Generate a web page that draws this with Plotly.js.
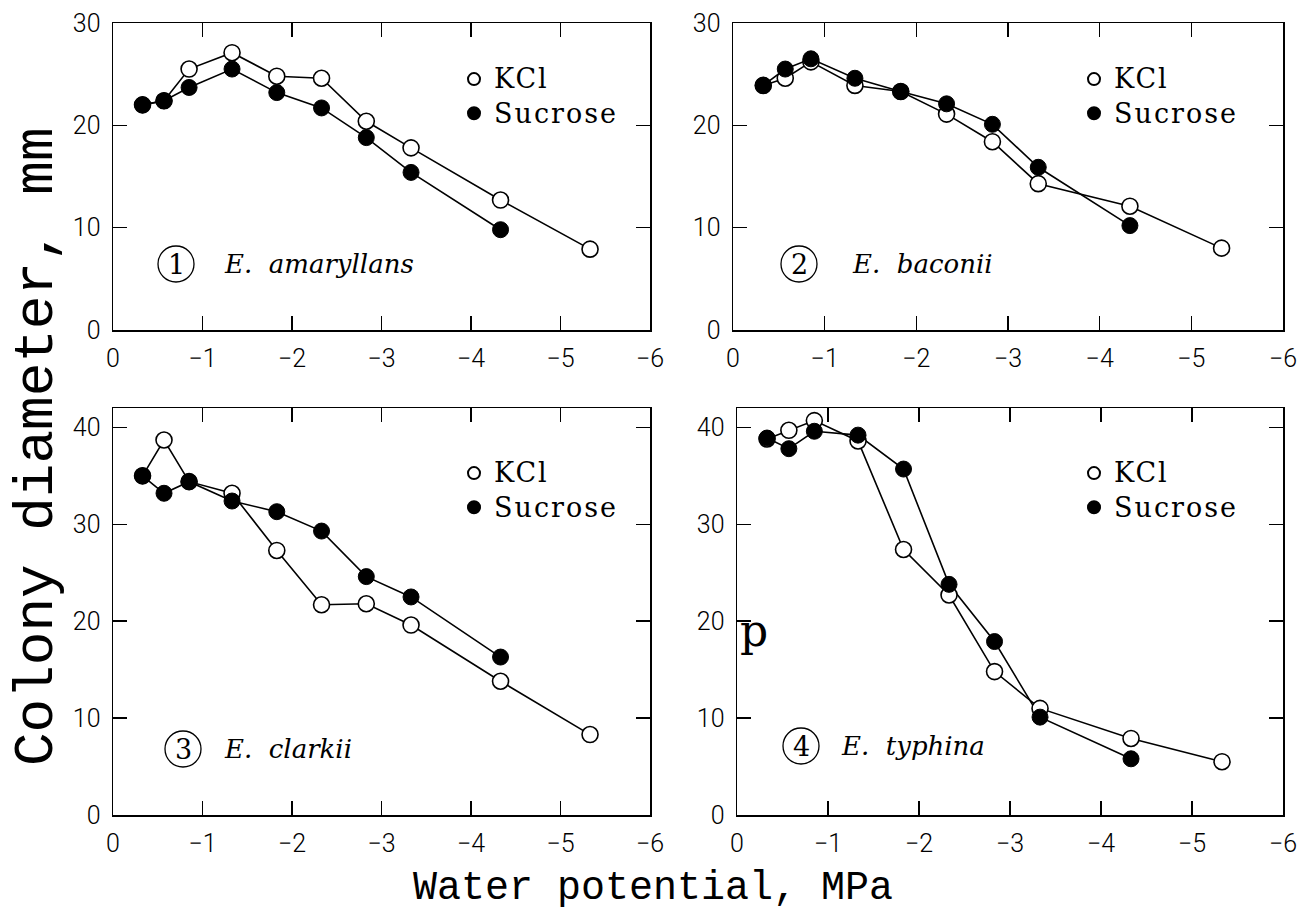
<!DOCTYPE html>
<html>
<head>
<meta charset="utf-8">
<script src="https://cdn.plot.ly/plotly-3.0.1.min.js"></script>
<style>html,body{margin:0;padding:0;background:#fff;}#chart{width:1301px;height:918px;}</style>
</head>
<body>
<div id="chart"></div>
<script>
// ---- data ----
const waterPotential = [-0.33, -0.57, -0.85, -1.33, -1.83, -2.33, -2.83, -3.33, -4.33, -5.33];
const waterPotentialSucrose = [-0.33, -0.57, -0.85, -1.33, -1.83, -2.33, -2.83, -3.33, -4.33];

const amaryllansKCl     = [22.0, 22.4, 25.5, 27.1, 24.8, 24.6, 20.4, 17.8, 12.7, 7.9];
const amaryllansSucrose = [22.0, 22.4, 23.7, 25.5, 23.2, 21.7, 18.8, 15.4, 9.8];

const baconiiKCl        = [23.9, 24.6, 26.2, 23.9, 23.3, 21.1, 18.4, 14.3, 12.1, 8.0];
const baconiiSucrose    = [23.9, 25.5, 26.5, 24.6, 23.3, 22.1, 20.1, 15.9, 10.2];

const clarkiiKCl        = [35.0, 38.7, 34.4, 33.2, 27.3, 21.7, 21.8, 19.6, 13.8, 8.3];
const clarkiiSucrose    = [35.0, 33.2, 34.4, 32.4, 31.3, 29.3, 24.6, 22.5, 16.3];

const typhinaKCl        = [38.8, 39.7, 40.7, 38.6, 27.4, 22.7, 14.8, 11.0, 7.9, 5.5];
const typhinaSucrose    = [38.9, 37.8, 39.6, 39.2, 35.7, 23.8, 17.9, 10.1, 5.8];

const panelNumbers = ['1', '2', '3', '4'];
const speciesNames = ['E.\u00a0\u00a0amaryllans', 'E.\u00a0\u00a0baconii', 'E.\u00a0\u00a0clarkii', 'E.\u00a0\u00a0typhina'];
const seriesNames = ['KCl', 'Sucrose'];
const xTickVals = [0, -1, -2, -3, -4, -5, -6];
const yTickValsTop = [0, 10, 20, 30];
const yTickValsBottom = [0, 10, 20, 30, 40];
const yTitle = 'Colony diameter, mm';
const xTitle = 'Water potential, MPa';

// ---- layout helpers ----
const W = 1301, H = 918;
const fx = p => p / W;
const fy = p => 1 - p / H;

const panels = [
  {x0: 113, x1: 650, y0: 23,  y1: 330, yr: [0, 30], yt: yTickValsTop,    kcl: amaryllansKCl, suc: amaryllansSucrose,
   circ: [176, 264], txt: 222, leg: [454, 57]},
  {x0: 733, x1: 1283, y0: 23, y1: 330, yr: [0, 30], yt: yTickValsTop,    kcl: baconiiKCl, suc: baconiiSucrose,
   circ: [799, 264], txt: 850, leg: [1074, 57]},
  {x0: 113, x1: 650, y0: 408, y1: 815, yr: [0, 42], yt: yTickValsBottom, kcl: clarkiiKCl, suc: clarkiiSucrose,
   circ: [183, 749], txt: 222, leg: [454, 451]},
  {x0: 737, x1: 1283, y0: 408, y1: 815, yr: [0, 42], yt: yTickValsBottom, kcl: typhinaKCl, suc: typhinaSucrose,
   circ: [801, 746], txt: 839, leg: [1074, 451]}
];

const tickFont = {family: 'Roboto, "Liberation Sans", sans-serif', size: 25, color: '#000', weight: 300};
const serif = '"DejaVu Serif", "Liberation Serif", serif';
const mono = '"Liberation Mono", "DejaVu Sans Mono", monospace';
const legendLabel = t => '<span style="font-size:27px;letter-spacing:2px">' + t + '</span>';

const traces = [];
const layout = {
  width: W, height: H,
  margin: {l: 0, r: 0, t: 0, b: 0},
  paper_bgcolor: '#fff', plot_bgcolor: '#fff',
  showlegend: true,
  annotations: [], shapes: []
};

panels.forEach((p, i) => {
  const s = i === 0 ? '' : String(i + 1);
  const xa = 'x' + s, ya = 'y' + s;
  const legName = i === 0 ? 'legend' : 'legend' + (i + 1);
  const lineStyle = {color: '#000', width: 1.6};
  traces.push({x: waterPotential, y: p.kcl, mode: 'lines', line: lineStyle, xaxis: xa, yaxis: ya, showlegend: false, hoverinfo: 'skip'});
  traces.push({x: waterPotentialSucrose, y: p.suc, mode: 'lines', line: lineStyle, xaxis: xa, yaxis: ya, showlegend: false, hoverinfo: 'skip'});
  traces.push({x: waterPotential, y: p.kcl, mode: 'markers', name: legendLabel(seriesNames[0]),
    marker: {symbol: 'circle', size: 16, color: '#fff', line: {color: '#000', width: 1.6}},
    xaxis: xa, yaxis: ya, legend: legName});
  traces.push({x: waterPotentialSucrose, y: p.suc, mode: 'markers', name: legendLabel(seriesNames[1]),
    marker: {symbol: 'circle', size: 16, color: '#000', line: {color: '#000', width: 1}},
    xaxis: xa, yaxis: ya, legend: legName});

  const axCommon = {
    showgrid: false, zeroline: false, showline: true, mirror: 'ticks',
    linecolor: '#000', linewidth: 1.5, ticks: 'inside', ticklen: 14, tickwidth: 1.5, tickcolor: '#000',
    tickfont: tickFont
  };
  layout['xaxis' + s] = Object.assign({}, axCommon, {
    domain: [fx(p.x0), fx(p.x1)], range: [0, -6], anchor: ya, tickvals: xTickVals, ticklabelstandoff: 5
  });
  layout['yaxis' + s] = Object.assign({}, axCommon, {
    domain: [fy(p.y1), fy(p.y0)], range: p.yr, anchor: xa, tickvals: p.yt, ticklabelstandoff: 6
  });

  layout[legName] = {
    x: fx(p.leg[0]), y: fy(p.leg[1]), xanchor: 'left', yanchor: 'top',
    bgcolor: 'rgba(0,0,0,0)', borderwidth: 0, itemsizing: 'constant',
    font: {family: serif, size: 24, color: '#000'}, itemclick: false, itemdoubleclick: false
  };

  const r = 18;
  layout.shapes.push({type: 'circle', xref: 'paper', yref: 'paper',
    x0: fx(p.circ[0] - r), x1: fx(p.circ[0] + r), y0: fy(p.circ[1] + r), y1: fy(p.circ[1] - r),
    line: {color: '#000', width: 1.3}});
  layout.annotations.push({xref: 'paper', yref: 'paper', x: fx(p.circ[0]), y: fy(p.circ[1]),
    text: panelNumbers[i], showarrow: false, xanchor: 'center', yanchor: 'middle',
    font: {family: serif, size: 27, color: '#000'}});
  layout.annotations.push({xref: 'paper', yref: 'paper', x: fx(p.txt), y: fy(p.circ[1]),
    text: speciesNames[i], showarrow: false, xanchor: 'left', yanchor: 'middle',
    font: {family: serif, size: 26, color: '#000', style: 'italic'}});
});

layout.annotations.push({xref: 'paper', yref: 'paper', x: fx(754), y: fy(630), text: 'p', showarrow: false,
  xanchor: 'center', yanchor: 'middle', font: {family: serif, size: 44, color: '#000'}});

layout.annotations.push({xref: 'paper', yref: 'paper', x: fx(37), y: fy(447), text: yTitle, showarrow: false,
  textangle: -90, xanchor: 'center', yanchor: 'middle', font: {family: mono, size: 56, color: '#000'}});
layout.annotations.push({xref: 'paper', yref: 'paper', x: fx(653), y: fy(888), text: xTitle, showarrow: false,
  xanchor: 'center', yanchor: 'middle', font: {family: mono, size: 40, color: '#000'}});

Plotly.newPlot('chart', traces, layout, {staticPlot: true, displayModeBar: false});
</script>
</body>
</html>
